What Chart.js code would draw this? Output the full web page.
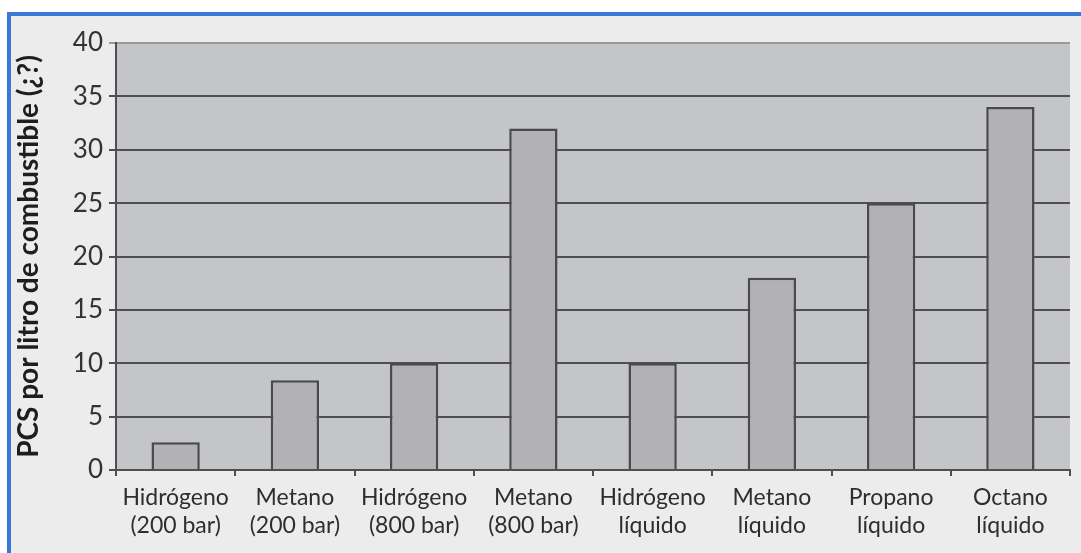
<!DOCTYPE html>
<html>
<head>
<meta charset="utf-8">
<script src="https://cdn.jsdelivr.net/npm/chart.js@4"></script>
<style>
  body { margin: 0; background: #ffffff; width: 1081px; height: 553px; overflow: hidden; position: relative; }
  #frame { position: absolute; left: 7px; top: 12px; width: 1090px; height: 560px;
           border-top: 4px solid #3b78d8; border-left: 4px solid #3b78d8; background: #ececec; }
  #wrap { position: absolute; left: 0; top: 0; width: 1081px; height: 553px; }
</style>
</head>
<body>
<div id="frame"></div>
<div id="wrap"><canvas id="pcsChart" width="1081" height="553"></canvas></div>
<script>
// PCS por litro de combustible
const categories = [
  ["Hidrógeno", "(200 bar)"],
  ["Metano", "(200 bar)"],
  ["Hidrógeno", "(800 bar)"],
  ["Metano", "(800 bar)"],
  ["Hidrógeno", "líquido"],
  ["Metano", "líquido"],
  ["Propano", "líquido"],
  ["Octano", "líquido"]
];
const pcsValues = [2.6, 8.4, 10, 32, 10, 18, 25, 34];
const yTicks = [0, 5, 10, 15, 20, 25, 30, 35, 40];

// gray plot background
const plotBackground = {
  id: 'plotBackground',
  beforeDraw(chart) {
    const { ctx, chartArea: a } = chart;
    ctx.save();
    ctx.fillStyle = '#c4c5c8';
    ctx.fillRect(a.left, a.top, a.right - a.left, a.bottom - a.top);
    ctx.restore();
  }
};

new Chart(document.getElementById("pcsChart"), {
  type: 'bar',
  data: {
    labels: categories,
    datasets: [{
      data: pcsValues,
      backgroundColor: "#b2b2b6",
      borderColor: "#4a4a4c",
      borderWidth: 2.5,
      categoryPercentage: 1,
      barPercentage: 0.405,
    }],
  },
  options: {
    responsive: false,
    animation: false,
    layout: { padding: { left: 0, top: 43, right: 11, bottom: 0 } },
    plugins: { legend: { display: false }, tooltip: { enabled: false } },
    scales: {
      x: {
        afterFit(scale) { scale.height = 83; },
        grid: { drawOnChartArea: false, drawTicks: true, tickLength: 6, color: '#4f4f51', lineWidth: 2 },
        border: { color: '#4f4f51', width: 2 },
        ticks: {
          color: '#2e2e2e',
          padding: 8,
          maxRotation: 0,
          font: { family: 'Lato', size: 23 },
          lineHeight: 1.18,
        },
      },
      y: {
        min: 0,
        max: 40,
        afterFit(scale) { scale.width = 116; },
        afterBuildTicks(scale) { scale.ticks = yTicks.map(v => ({ value: v })); },
        grid: {
          tickLength: 7,
          lineWidth: 2,
          color: ctx => (ctx.tick && ctx.tick.value === 40) ? '#9a9a9c' : '#4f4f51',
        },
        border: { color: '#4f4f51', width: 2 },
        ticks: {
          color: '#333333',
          padding: 6,
          font: { family: 'Lato', size: 26 },
        },
        title: {
          display: true,
          text: 'PCS por litro de combustible (¿?)',
          color: '#1e1e1e',
          font: { family: 'Lato', size: 28, weight: 'bold' },
          padding: { top: 12, bottom: 0 },
        },
      },
    },
  },
  plugins: [plotBackground],
});
</script>
</body>
</html>
